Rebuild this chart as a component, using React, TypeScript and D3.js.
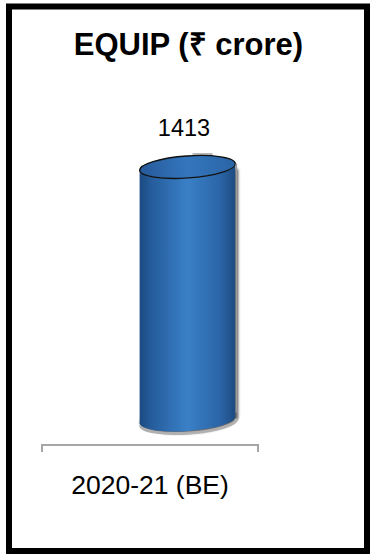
import React from "react";
import * as d3 from "d3";

const title = "EQUIP (₹ crore)";
const categories = ["2020-21 (BE)"];
const values = [1413];

const W = 370;
const H = 554;

export default function App() {
  // Category band along the floor line, value scale for the cylinder height
  const x = d3.scaleBand<string>().domain(categories).range([42, 258]).padding(0);
  const y = d3.scaleLinear().domain([0, 1500]).range([420, 151.4]);

  const depthShift = 37.5; // 3D offset of the cylinder relative to the floor band
  const rx = 48;
  const ry = 11;
  const tilt = -4;

  const axisY = 445;

  return (
    <svg
      width={W}
      height={H}
      style={{ position: "absolute", left: 0, top: 0 }}
      fontFamily="Arial, 'Liberation Sans', sans-serif"
    >
      <defs>
        <linearGradient id="cylBody" x1="0" x2="1" y1="0" y2="0">
          <stop offset="0" stopColor="#1c4a80" />
          <stop offset="0.12" stopColor="#255c9c" />
          <stop offset="0.5" stopColor="#3a80c6" />
          <stop offset="0.85" stopColor="#2a64a6" />
          <stop offset="1" stopColor="#1d4a80" />
        </linearGradient>
        <linearGradient id="cylTop" x1="0" x2="1" y1="0" y2="0">
          <stop offset="0" stopColor="#26599a" />
          <stop offset="0.5" stopColor="#3476bc" />
          <stop offset="1" stopColor="#2a64a6" />
        </linearGradient>
        <filter id="soft" x="-20%" y="-20%" width="140%" height="140%">
          <feGaussianBlur stdDeviation="0.8" />
        </filter>
      </defs>

      <rect x={0} y={0} width={W} height={H} fill="#ffffff" />
      <rect x={9} y={6.5} width={358} height={544.5} fill="#ffffff" stroke="#000" strokeWidth={6} />

      <text x={188.5} y={55} textAnchor="middle" fontSize={31} fontWeight="bold" fill="#000">
        {title}
      </text>

      {categories.map((c, i) => {
        const cx = (x(c) as number) + x.bandwidth() / 2 + depthShift;
        const yTop = y(values[i]);
        const yBot = y(0);
        const rad = (tilt * Math.PI) / 180;
        const dx = rx * Math.cos(rad);
        const dy = rx * Math.sin(rad);
        // Body: left side from top ellipse to bottom ellipse, bottom half-arc, right side up
        const body = [
          `M${cx - dx},${yTop - dy}`,
          `L${cx - dx},${yBot - dy}`,
          `A${rx},${ry} ${tilt} 0 0 ${cx + dx},${yBot + dy}`,
          `L${cx + dx},${yTop + dy}`,
          `A${rx},${ry} ${tilt} 0 1 ${cx - dx},${yTop - dy}`,
          "Z",
        ].join(" ");
        const shadow = [
          `M${cx + dx},${yTop + dy + 4}`,
          `L${cx + dx + 3},${yTop + dy + 6}`,
          `L${cx + dx + 3},${yBot + dy + 1}`,
          `A${rx + 1},${ry + 2} ${tilt} 0 1 ${cx - dx + 2},${yBot - dy + 3}`,
          `L${cx - dx},${yBot - dy}`,
          "Z",
        ].join(" ");
        return (
          <g key={c}>
            <path d={shadow} fill="#3a3a3a" opacity={0.75} filter="url(#soft)" />
            <path
              d={`M${cx - dx},${yBot - dy} A${rx},${ry} ${tilt} 0 0 ${cx + dx},${yBot + dy}`}
              fill="none"
              stroke="#b0b0b0"
              strokeWidth={3}
              transform="translate(1,2)"
            />
            <path d={body} fill="url(#cylBody)" />
            <rect x={cx + 5} y={yTop - ry - 3} width={20} height={3} fill="#b8b8b8" />
            <ellipse
              cx={cx}
              cy={yTop}
              rx={rx}
              ry={ry}
              transform={`rotate(${tilt},${cx},${yTop})`}
              fill="url(#cylTop)"
              stroke="#111"
              strokeWidth={1.3}
            />
            <line
              x1={cx + dx + 1}
              x2={cx + dx + 1}
              y1={yTop + dy}
              y2={yBot + dy - 4}
              stroke="#9a9a9a"
              strokeWidth={1.5}
            />
            <text x={cx - 3.5} y={yTop - 31} textAnchor="middle" fontSize={23.5} fill="#000">
              {values[i]}
            </text>
            <text
              x={(x(c) as number) + x.bandwidth() / 2}
              y={494}
              textAnchor="middle"
              fontSize={26.5}
              fill="#000"
            >
              {c}
            </text>
          </g>
        );
      })}

      <path
        d={`M${x.range()[0]},${axisY + 7} V${axisY} H${x.range()[1]} V${axisY + 7}`}
        fill="none"
        stroke="#a6a6a6"
        strokeWidth={2}
      />
    </svg>
  );
}
